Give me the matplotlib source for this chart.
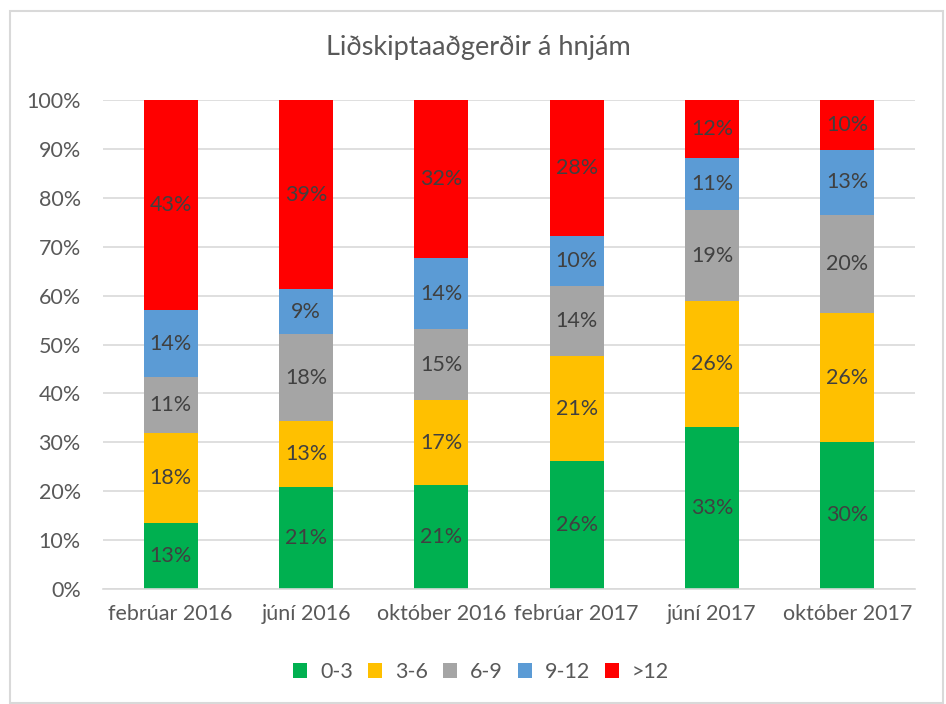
import matplotlib.pyplot as plt
import numpy as np
from matplotlib.patches import Rectangle

categories = ["febrúar 2016", "júní 2016", "október 2016", "febrúar 2017", "júní 2017", "október 2017"]
series_names = ["0-3", "3-6", "6-9", "9-12", ">12"]
s_0_3 = [13.4, 20.9, 21.3, 26.2, 33.1, 30.1]
s_3_6 = [18.5, 13.4, 17.3, 21.4, 25.8, 26.3]
s_6_9 = [11.4, 17.8, 14.6, 14.3, 18.6, 20.1]
s_9_12 = [13.8, 9.2, 14.4, 10.2, 10.6, 13.3]
s_12p = [42.9, 38.7, 32.4, 27.9, 11.9, 10.2]
colors = ["#00B050", "#FFC000", "#A5A5A5", "#5B9BD5", "#FF0000"]
title = "Liðskiptaaðgerðir á hnjám"

plt.rcParams['font.family'] = ['Lato', 'DejaVu Sans']

fig = plt.figure(figsize=(9.46, 7.04), dpi=100)
W, H = 946, 704
fig.patches.append(Rectangle((10/W, 1 - 703/H), 933/W, 692/H, transform=fig.transFigure,
                             fill=False, edgecolor="#D9D9D9", linewidth=1.5))
ax = fig.add_axes([103/W, 1 - 589/H, (915-103)/W, (589-100)/H])

data = [s_0_3, s_3_6, s_6_9, s_9_12, s_12p]
x = np.arange(len(categories))
bottom = np.zeros(len(categories))
for name, vals, c in zip(series_names, data, colors):
    vals = np.array(vals)
    ax.bar(x, vals, 0.4, bottom=bottom, color=c, label=name, zorder=2)
    for xi, b, v in zip(x, bottom, vals):
        ax.text(xi, b + v / 2, f"{round(v):.0f}%", ha="center", va="center",
                fontsize=15.5, color="#404040", zorder=3)
    bottom += vals

ax.set_xlim(-0.5, len(categories) - 0.5)
ax.set_ylim(0, 100)
ax.set_yticks(np.arange(0, 101, 10))
ax.set_yticklabels([f"{t}%" for t in range(0, 101, 10)])
ax.set_xticks(x)
ax.set_xticklabels(categories)
ax.tick_params(axis="both", length=0, labelsize=15.5, colors="#595959")
ax.tick_params(axis="y", pad=16)
ax.tick_params(axis="x", pad=11)
ax.grid(axis="y", color="#D9D9D9", linewidth=1.2, zorder=0)
for s in ["top", "right", "left"]:
    ax.spines[s].set_visible(False)
ax.spines["bottom"].set_color("#D9D9D9")
ax.spines["bottom"].set_linewidth(1.2)

fig.text(478/W, 1 - 48/H, title, ha="center", va="center", fontsize=19.5, color="#595959")

handles, labels = ax.get_legend_handles_labels()
fig.legend(handles, labels, loc="center", bbox_to_anchor=(481/W, 1 - 672/H), ncol=5,
           frameon=False, fontsize=15.5, handlelength=0.65, handleheight=0.65,
           columnspacing=0.7, handletextpad=0.6, labelcolor="#595959")

fig.savefig("out.png", dpi=100)
